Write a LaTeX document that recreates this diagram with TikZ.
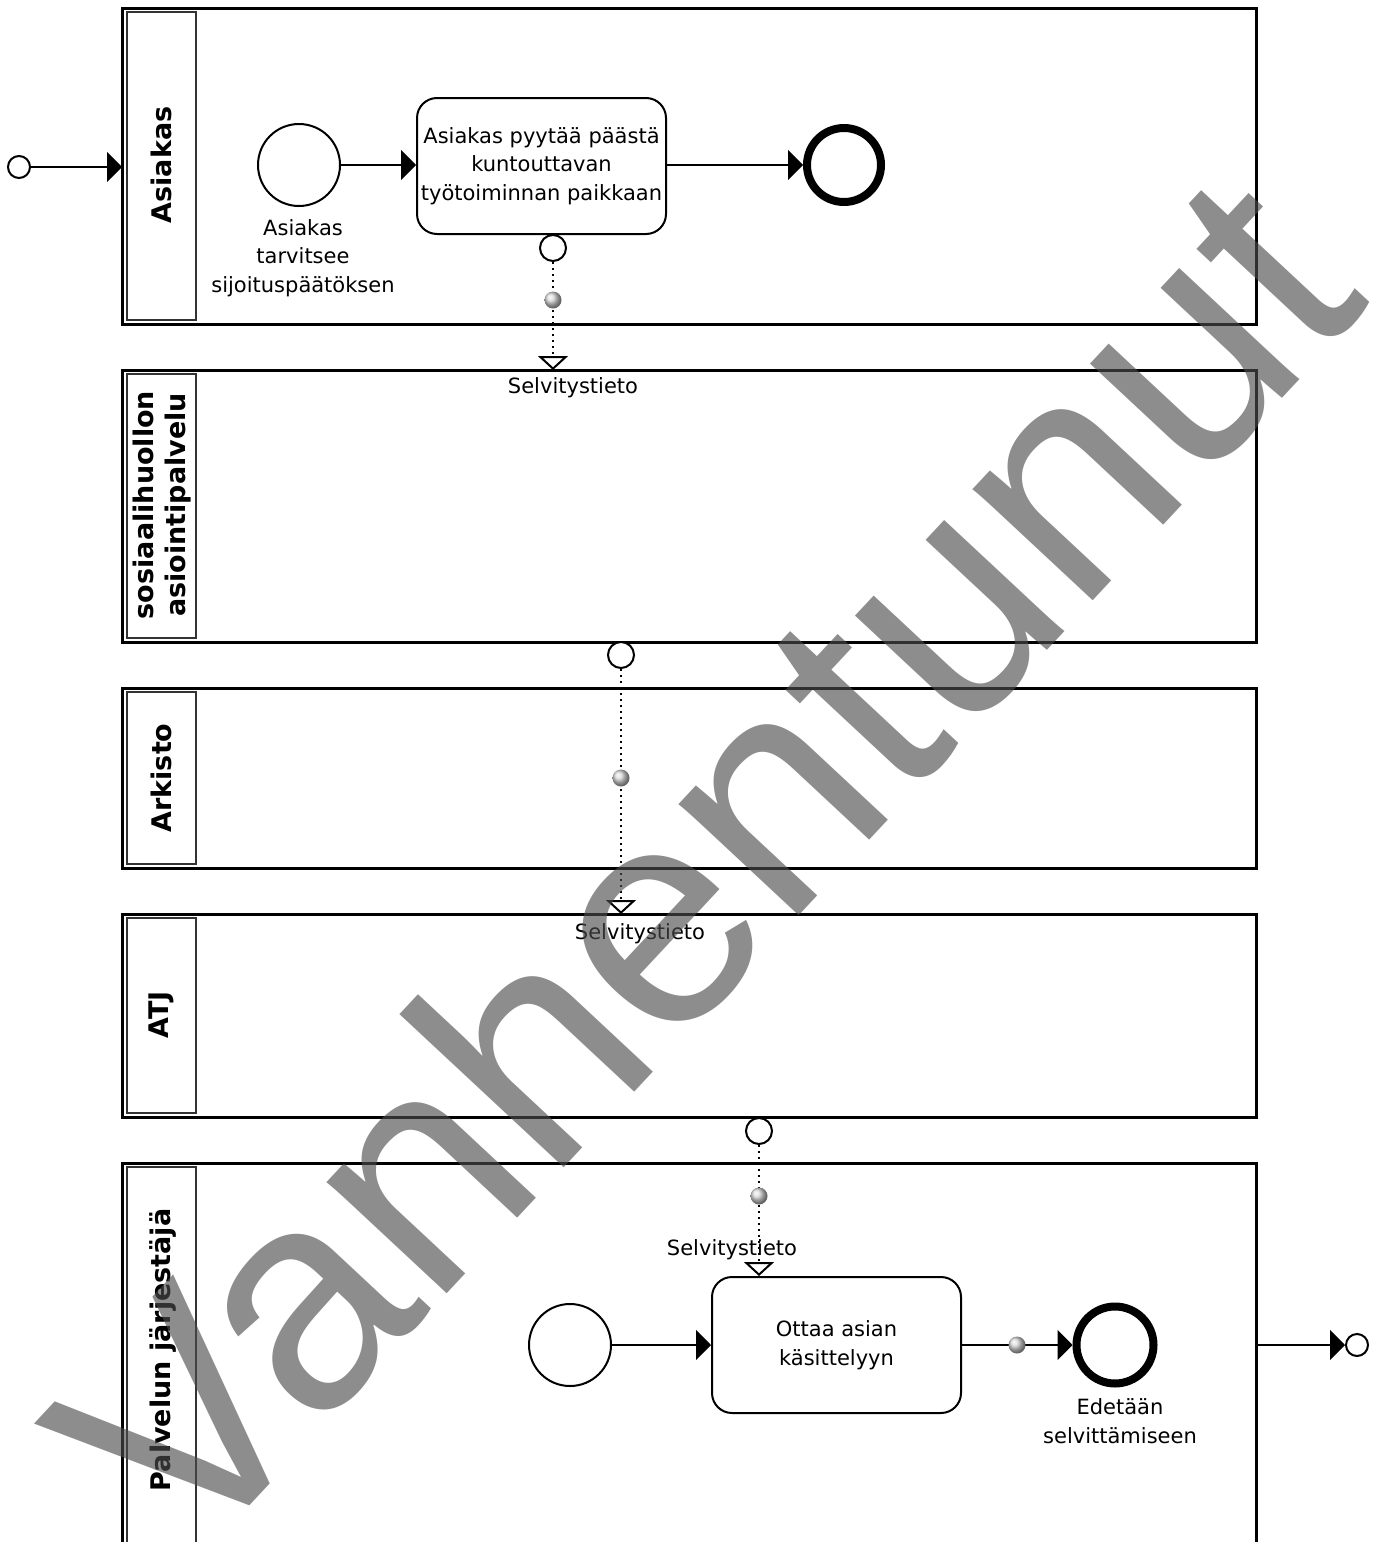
\documentclass[tikz,border=0pt]{standalone}
\usepackage{fontspec}
\setmainfont{DejaVu Sans}
\newfontfamily\stampfont{Liberation Sans}
\usetikzlibrary{arrows.meta}

\tikzset{
  lane/.style={line width=1.5pt},
  labelbox/.style={line width=0.6pt, draw=black!80},
  lanelabel/.style={rotate=90, align=center, font=\bfseries\fontsize{13.5}{16}\selectfont},
  txt/.style={align=center, font=\fontsize{10.5}{14.3}\selectfont, inner sep=0pt},
  task/.style={txt, draw, rounded corners=10pt, line width=1pt,
    minimum width=124.5pt, minimum height=68pt},
  startev/.style={draw, circle, line width=1pt, minimum size=41pt, inner sep=0pt},
  endev/.style={draw, circle, line width=4pt, minimum size=37pt, inner sep=0pt},
  port/.style={draw, circle, fill=white, line width=1pt, minimum size=13pt, inner sep=0pt},
  smallport/.style={port, minimum size=11pt},
  msgmark/.style={circle, shade, ball color=black!15, minimum size=8.5pt, inner sep=0pt},
  flow/.style={line width=1pt, -{Triangle[length=7.5pt,width=15pt]}},
  msg/.style={line width=1pt, dotted, -{Triangle[open,length=7pt,width=15pt,fill=white]}}
}

\begin{document}
\begin{tikzpicture}[x=0.5pt, y=-0.5pt]
  \useasboundingbox (0,0) rectangle (1383,1542);
  \clip (0,0) rectangle (1383,1542);

  % Lanes
  \draw[lane] (122,8) rectangle (1256,324);
  \draw[labelbox] (127,12) rectangle (196,320);
  \draw[lane] (122,370) rectangle (1256,642);
  \draw[labelbox] (127,374) rectangle (196,638);
  \draw[lane] (122,688) rectangle (1256,868);
  \draw[labelbox] (127,692) rectangle (196,864);
  \draw[lane] (122,914) rectangle (1256,1117);
  \draw[labelbox] (127,918) rectangle (196,1113);
  \draw[lane] (122,1163) rectangle (1256,1600);
  \draw[labelbox] (127,1167) rectangle (196,1600);

  \node[lanelabel] (lasiakas) at (161,165) {Asiakas};
  \node[lanelabel] (lsosiaali) at (162,505) {sosiaalihuollon\\asiointipalvelu};
  \node[lanelabel] (larkisto) at (161,778) {Arkisto};
  \node[lanelabel] (latj) at (161,1015) {ATJ};
  \node[lanelabel] (lpalvelu) at (163,1350) {Palvelun järjestäjä};

  % Asiakas
  \node[smallport] (in) at (19,167) {};
  \coordinate (asiakasL) at (122,167);
  \draw[flow] (in) -- (asiakasL);

  \node[startev] (s1) at (299,165) {};
  \node[txt] (s1lbl) at (303,258) {Asiakas\\tarvitsee\\sijoituspäätöksen};
  \node[task] (t1) at (541.5,166) {Asiakas pyytää päästä\\kuntouttavan\\työtoiminnan paikkaan};
  \node[endev] (e1) at (844,165) {};
  \draw[flow] (s1) -- (s1 -| t1.west);
  \draw[flow] (t1.east |- e1) -- (e1);

  % Message flows
  \node[port] (m1) at (553,248) {};
  \coordinate (sosiaaliT) at (553,370);
  \draw[msg] (m1) -- (sosiaaliT);
  \node[msgmark] (k1) at (553,300) {};
  \node[txt] (sel1) at (573,388) {Selvitystieto};

  \node[port] (m2) at (621,655) {};
  \coordinate (atjT) at (621,914);
  \draw[msg] (m2) -- (atjT);
  \node[msgmark] (k2) at (621,778) {};
  \node[txt] (sel2) at (640,934) {Selvitystieto};

  % Palvelun järjestäjä
  \node[startev] (s2) at (570,1345) {};
  \node[task] (t2) at (836.5,1345) {Ottaa asian\\käsittelyyn};
  \node[endev, minimum size=38.5pt] (e2) at (1115,1345) {};
  \node[txt] (e2lbl) at (1120,1421) {Edetään\\selvittämiseen};
  \draw[flow] (s2) -- (t2);
  \draw[flow] (t2) -- (e2);
  \node[msgmark] (k4) at (1017,1345) {};

  \node[port] (m3) at (759,1131) {};
  \draw[msg] (m3) -- (m3 |- t2.north);
  \node[msgmark] (k3) at (759,1196) {};
  \node[txt] (sel3) at (732,1250) {Selvitystieto};

  \coordinate (palveluR) at (1256,1345);
  \node[smallport] (out) at (1357,1345) {};
  \draw[flow] (palveluR) -- (out);

  % Watermark
  \node[rotate=47, text=black!70, opacity=0.64, inner sep=0pt,
    font=\stampfont\fontsize{155}{155}\selectfont] (stamp) at (700,860) {Vanhentunut};
\end{tikzpicture}
\end{document}
